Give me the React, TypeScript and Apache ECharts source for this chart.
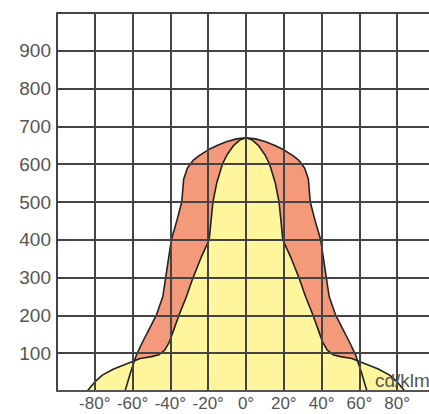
import React, { useEffect, useRef } from "react";
import * as echarts from "echarts";

// Angle (degrees) and luminous intensity (cd/klm)
const redAngles = [-64, -61, -58, -55, -51.5, -47.5, -44, -42.5, -39.5, -36.5, -34, -33, -31, -28, -25, -20, -15, -10, -5, 0, 5, 10, 15, 20, 25, 28, 31, 33, 34, 36.5, 39.5, 42.5, 44, 47.5, 51.5, 55, 58, 61, 64];
const redValues = [0, 50, 95, 127, 161, 200, 250, 300, 400, 452, 500, 560, 590, 610, 622, 638, 650, 660, 667, 670, 667, 660, 650, 638, 622, 610, 590, 560, 500, 452, 400, 300, 250, 200, 161, 127, 95, 50, 0];

const yellowAngles = [-84, -80, -76, -70, -65, -60, -56, -50, -46, -43, -40.5, -38, -35.5, -31.5, -28, -24, -19.5, -18.5, -17.5, -15.5, -12.5, -10, -6.5, -3, 0, 3, 6.5, 10, 12.5, 15.5, 17.5, 18.5, 19.5, 24, 28, 31.5, 35.5, 38, 40.5, 43, 46, 50, 56, 60, 65, 70, 76, 80, 84];
const yellowValues = [0, 24, 42, 58, 68, 78, 86, 91, 96, 108, 130, 165, 200, 250, 300, 350, 400, 450, 500, 550, 600, 625, 650, 665, 670, 665, 650, 625, 600, 550, 500, 450, 400, 350, 300, 250, 200, 165, 130, 108, 96, 91, 86, 78, 68, 58, 42, 24, 0];

const yTicks = { min: 0, max: 1000, interval: 100 };
const xTicks = { min: -100, max: 100, interval: 20 };
const unitLabel = "cd/klm";

const pairs = (xs: number[], ys: number[]) => xs.map((x, i) => [x, ys[i]]);

export default function App() {
  const ref = useRef<HTMLDivElement>(null);
  useEffect(() => {
    document.body.style.margin = "0";
    const chart = echarts.init(ref.current!, null, { renderer: "svg" });
    const red = pairs(redAngles, redValues);
    const yellow = pairs(yellowAngles, yellowValues);
    const labelStyle = {
      color: "#555",
      fontFamily: "Liberation Sans, Arial, sans-serif",
    };
    const gridLine = { color: "#444", width: 2 };
    chart.setOption({
      animation: false,
      backgroundColor: "#ffffff",
      grid: {
        left: 57,
        top: 13,
        width: 378,
        height: 378,
        containLabel: false,
        outerBoundsMode: "none",
      },
      xAxis: {
        type: "value",
        min: xTicks.min,
        max: xTicks.max,
        interval: xTicks.interval,
        z: 5,
        axisLine: { show: true, onZero: false, lineStyle: { color: "#555", width: 2 } },
        axisTick: { show: false },
        splitLine: { show: true, lineStyle: gridLine },
        axisLabel: {
          ...labelStyle,
          fontSize: 17,
          margin: 4,
          hideOverlap: false,
          formatter: (v: number) => (v === -100 || v === 100 ? "" : v + "°"),
        },
      },
      yAxis: {
        type: "value",
        min: yTicks.min,
        max: yTicks.max,
        interval: yTicks.interval,
        z: 5,
        axisLine: { show: true, onZero: false, lineStyle: gridLine },
        axisTick: { show: false },
        splitLine: { show: true, lineStyle: gridLine },
        axisLabel: {
          ...labelStyle,
          fontSize: 19,
          margin: 6,
          formatter: (v: number) => (v === 0 || v === 1000 ? "" : String(v)),
        },
      },
      graphic: [
        {
          type: "text",
          left: 375,
          top: 371,
          z: 10,
          style: { text: unitLabel, ...labelStyle, fill: "#555", fontSize: 19 },
        },
      ],
      series: [
        {
          type: "line",
          data: red,
          symbol: "none",
          lineStyle: { width: 0 },
          areaStyle: { color: "#f49a7a", opacity: 1 },
          z: 1,
        },
        {
          type: "line",
          data: yellow,
          symbol: "none",
          lineStyle: { width: 0 },
          areaStyle: { color: "#fff59d", opacity: 1 },
          z: 2,
        },
        {
          type: "line",
          data: red,
          symbol: "none",
          lineStyle: { color: "#222", width: 1.6 },
          z: 3,
        },
        {
          type: "line",
          data: yellow,
          symbol: "none",
          lineStyle: { color: "#222", width: 1.6 },
          z: 3,
        },
      ],
    });
    return () => chart.dispose();
  }, []);
  return <div ref={ref} style={{ width: 429, height: 414 }} />;
}
